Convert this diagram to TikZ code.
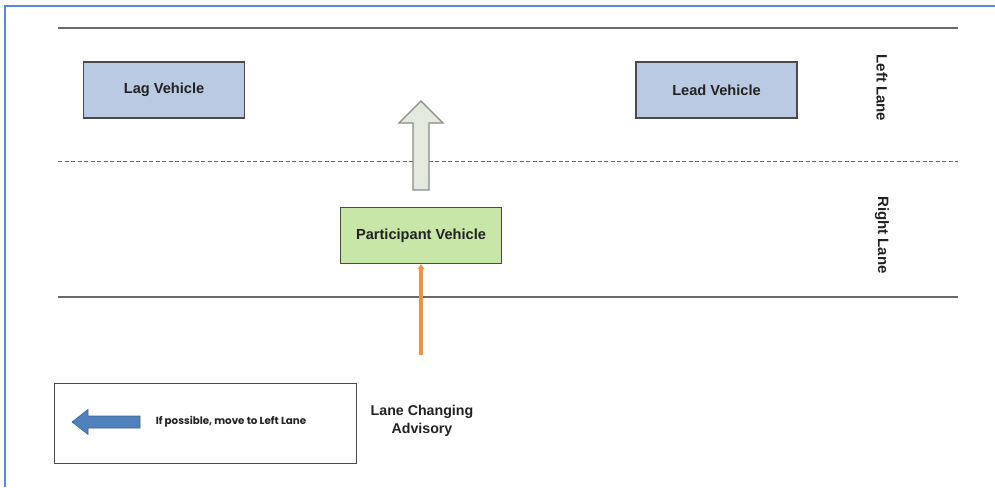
\documentclass[tikz,border=0pt]{standalone}
\usepackage{fontspec}
\setmainfont{Liberation Sans}
\newfontfamily\popfont{Poppins}
\usetikzlibrary{arrows.meta}
\definecolor{framec}{HTML}{5A8AD0}
\definecolor{roadc}{HTML}{6A6A6A}
\definecolor{vehblue}{HTML}{B9CAE2}
\definecolor{vehgreen}{HTML}{C7E6A8}
\definecolor{boxline}{HTML}{4A4A4A}
\definecolor{bigarrow}{HTML}{E4E9DD}
\definecolor{bigarrowline}{HTML}{8A8A8A}
\definecolor{orangec}{HTML}{EE9142}
\definecolor{advblue}{HTML}{4F81BD}
\definecolor{txtc}{HTML}{222222}
\tikzset{
  road/.style={draw=roadc, line width=2pt},
  lanedash/.style={draw=roadc, line width=1pt, dash pattern=on 4pt off 2.5pt},
  vehicle/.style={draw=boxline, line width=1.4pt, minimum width=161pt, minimum height=56pt,
    font=\fontsize{14.6}{17}\selectfont\bfseries, text=txtc, inner sep=0pt},
  lanelabel/.style={rotate=-90, font=\fontsize{15}{17}\selectfont\bfseries, text=txtc},
}
\begin{document}
\begin{tikzpicture}[x=1pt,y=-1pt]
\useasboundingbox[fill=white] (0,0) rectangle (995,487);
% frame
\draw[framec, line width=2.2pt] (5,487) -- (5,6) -- (995,6);
% road lines
\coordinate (t1) at (58,28); \coordinate (t2) at (958,28);
\coordinate (d1) at (58,161); \coordinate (d2) at (958,161);
\coordinate (b1) at (58,297); \coordinate (b2) at (958,297);
\draw[road] (t1) -- (t2);
\draw[lanedash] (d1) -- (d2);
\draw[road] (b1) -- (b2);
% vehicles
\node[vehicle, fill=vehblue] (lag) at (164,90) {Lag Vehicle};
\node[vehicle, fill=vehblue] (lead) at (716.5,90) {Lead Vehicle};
\node[vehicle, fill=vehgreen] (part) at (421,235.5) {Participant Vehicle};
% lane labels
\node[lanelabel] (ll) at (882,88) {Left Lane};
\node[lanelabel] (rl) at (882,235) {Right Lane};
% big hollow arrow
\draw[fill=bigarrow, draw=bigarrowline, line width=1.1pt, line join=miter]
  (413,190) -- (413,123) -- (399,123) -- (421,101) -- (443,123) -- (429,123) -- (429,190) -- cycle;
% orange arrow
\coordinate (oa) at (421,355);
\draw[orangec, line width=3.4pt, -{Triangle[length=5pt,width=7pt]}] (oa) -- (part.south);
% advisory box
\node[draw=boxline, line width=1pt, minimum width=302pt, minimum height=80pt, inner sep=0pt] (adv) at (205,423) {};
\draw[fill=advblue, draw=advblue!80!black, line width=0.6pt]
  (140,416) -- (88,416) -- (88,409.5) -- (72,422) -- (88,434.5) -- (88,428) -- (140,428) -- cycle;
\node[font=\popfont\fontsize{10.3}{12}\selectfont\bfseries, text=txtc, inner sep=0pt] (advtxt) at (231,422) {If possible, move to Left Lane};
\node[font=\fontsize{14.2}{18}\selectfont\bfseries, text=txtc, align=center, inner sep=0pt] (lca) at (422,421) {Lane Changing\\Advisory};
\end{tikzpicture}
\end{document}
